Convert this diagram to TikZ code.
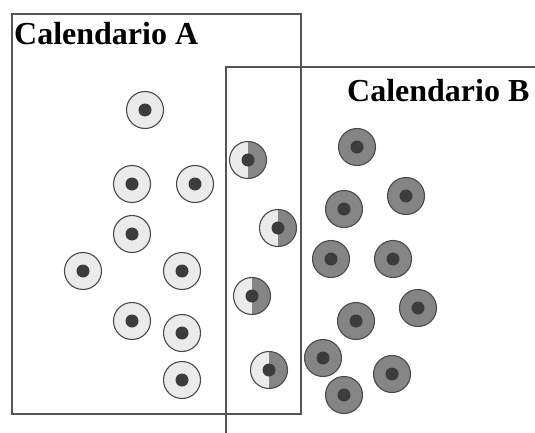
\documentclass[tikz,border=0pt]{standalone}
\usepackage{fontspec}
\setmainfont{Liberation Serif}
\definecolor{framegray}{HTML}{555555}
\definecolor{ringgray}{HTML}{4A4A4A}
\definecolor{lightcell}{HTML}{EBEBEB}
\definecolor{darkcell}{HTML}{858585}
\definecolor{dotgray}{HTML}{3C3C3C}
\begin{document}
\begin{tikzpicture}[x=1pt,y=-1pt,
  frame/.style={draw=framegray, line width=1.4pt},
  title/.style={anchor=base west, inner sep=0, font=\fontsize{32}{38}\selectfont\bfseries},
  cell/.style={circle, minimum size=37pt, inner sep=0pt, draw=ringgray, line width=1.1pt,
    path picture={\fill[dotgray] (path picture bounding box.center) circle (6.5pt);}},
  cellA/.style={cell, fill=lightcell},
  cellB/.style={cell, fill=darkcell},
  cellAB/.style={cell, fill=lightcell,
    path picture={\fill[darkcell] (path picture bounding box.north) rectangle (path picture bounding box.south east);
                  \fill[dotgray] (path picture bounding box.center) circle (6.5pt);}}]
\useasboundingbox (0,0) rectangle (535,433);

% calendar frames
\draw[frame] (12,14) rectangle (301,414);
\draw[frame] (535,67) -- (226,67) -- (226,433);
\node[title] (ta) at (14,45) {Calendario A};
\node[title] (tb) at (347,102) {Calendario B};

% cells only in A
\node[cellA] (a1) at (145,110) {};
\node[cellA] (a2) at (132,184) {};
\node[cellA] (a3) at (195,184) {};
\node[cellA] (a4) at (132,234) {};
\node[cellA] (a5) at (83,271) {};
\node[cellA] (a6) at (182,271) {};
\node[cellA] (a7) at (132,321) {};
\node[cellA] (a8) at (182,333) {};
\node[cellA] (a9) at (182,380) {};

% cells shared by A and B
\node[cellAB] (ab1) at (248,160) {};
\node[cellAB] (ab2) at (278,228) {};
\node[cellAB] (ab3) at (252,296) {};
\node[cellAB] (ab4) at (269,370) {};

% cells only in B
\node[cellB] (b1) at (357,147) {};
\node[cellB] (b2) at (406,196) {};
\node[cellB] (b3) at (344,209) {};
\node[cellB] (b4) at (331,259) {};
\node[cellB] (b5) at (393,259) {};
\node[cellB] (b6) at (418,308) {};
\node[cellB] (b7) at (356,321) {};
\node[cellB] (b8) at (323,358) {};
\node[cellB] (b9) at (392,374) {};
\node[cellB] (b10) at (344,395) {};
\end{tikzpicture}
\end{document}
